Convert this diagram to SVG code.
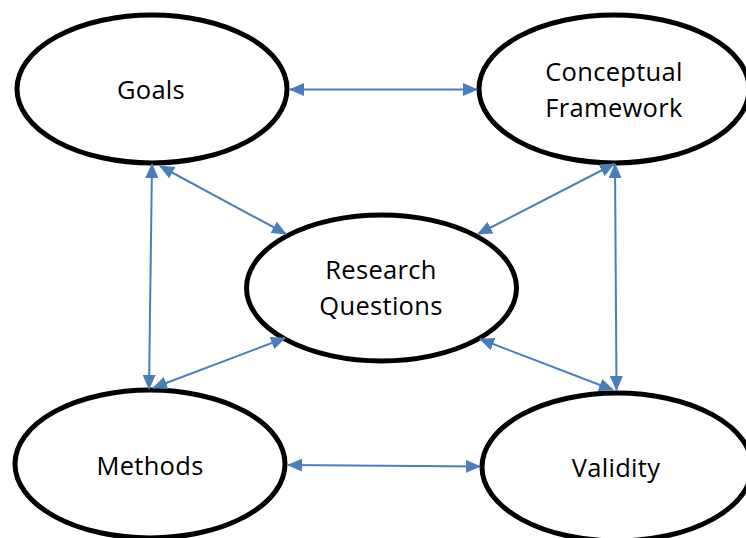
<svg xmlns="http://www.w3.org/2000/svg" width="746" height="538" viewBox="0 0 746 538">
<style>
.node ellipse{fill:#fff;stroke:#000;stroke-width:5}
.node text{font-family:"Open Sans","Liberation Sans",sans-serif;font-size:25.5px;letter-spacing:0.3px;fill:#000;text-anchor:middle}
.conn line{stroke:#4A7EBB;stroke-width:2;fill:none;marker-start:url(#ah);marker-end:url(#ah)}
</style>
<defs>
<marker id="ah" markerUnits="userSpaceOnUse" markerWidth="15" markerHeight="13" refX="14" refY="6.5" orient="auto-start-reverse" viewBox="0 0 15 13">
<path d="M0,0 L15,6.5 L0,13 z" fill="#4A7EBB"/>
</marker>
</defs>
<rect width="746" height="538" fill="#fff"/>
<g id="goals" class="node">
<ellipse cx="152" cy="89" rx="135" ry="74"/>
<text x="151" y="99">Goals</text>
</g>
<g id="conceptual-framework" class="node">
<ellipse cx="614" cy="89" rx="135" ry="74"/>
<text x="614" y="81">Conceptual</text>
<text x="614" y="117">Framework</text>
</g>
<g id="research-questions" class="node">
<ellipse cx="381.5" cy="288" rx="135" ry="73"/>
<text x="381" y="279">Research</text>
<text x="381" y="315">Questions</text>
</g>
<g id="methods" class="node">
<ellipse cx="150" cy="464" rx="135" ry="74"/>
<text x="150" y="475">Methods</text>
</g>
<g id="validity" class="node">
<ellipse cx="617" cy="467" rx="135" ry="74"/>
<text x="616" y="477">Validity</text>
</g>
<g id="connectors" class="conn">
<line x1="290" y1="89.5" x2="477" y2="89.5"/>
<line x1="288" y1="465" x2="480" y2="466.5"/>
<line x1="152" y1="164" x2="149" y2="389"/>
<line x1="615" y1="164" x2="616.5" y2="390"/>
<line x1="160" y1="166" x2="286" y2="234"/>
<line x1="153" y1="388" x2="285" y2="338"/>
<line x1="614" y1="164" x2="478" y2="234"/>
<line x1="613" y1="390" x2="480" y2="339"/>
</g>
</svg>
